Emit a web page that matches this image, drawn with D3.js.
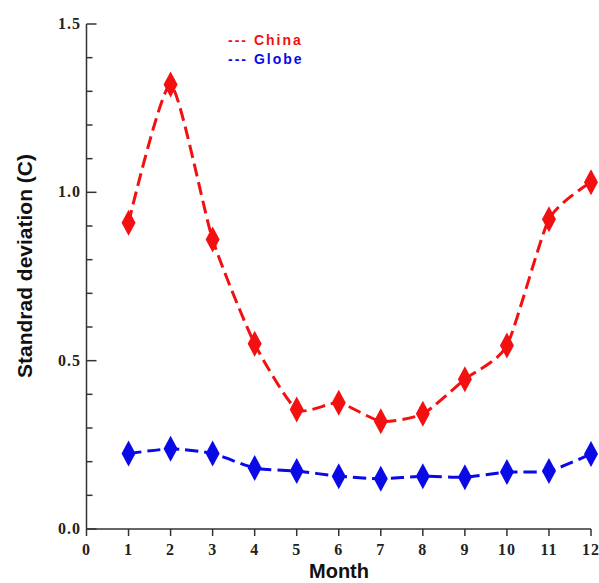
<!DOCTYPE html>
<html lang="en">
<head>
  <meta charset="UTF-8">
  <title>Standard deviation by month</title>
  <script src="https://cdnjs.cloudflare.com/ajax/libs/d3/7.8.5/d3.min.js"></script>
  <style>
    body { margin: 0; background: #fff; }
    svg { display: block; }
    .tick-label { font-family: "Liberation Serif", "Times New Roman", serif; font-weight: bold; font-size: 16px; fill: #222; letter-spacing: 1px; }
    .title { font-family: "Liberation Sans", Arial, sans-serif; font-weight: bold; font-size: 21px; fill: #111; }
    .legend { font-family: "Liberation Sans", Arial, sans-serif; font-weight: bold; font-size: 14px; letter-spacing: 2px; }
  </style>
</head>
<body>
  <svg id="chart" width="599" height="583"></svg>
  <script>
    // data
    const months = [1, 2, 3, 4, 5, 6, 7, 8, 9, 10, 11, 12];
    const china = [0.91, 1.32, 0.86, 0.55, 0.355, 0.375, 0.32, 0.342, 0.445, 0.545, 0.92, 1.03];
    const globe = [0.224, 0.238, 0.224, 0.181, 0.172, 0.157, 0.149, 0.157, 0.154, 0.169, 0.172, 0.223];
    const xTicks = [0, 1, 2, 3, 4, 5, 6, 7, 8, 9, 10, 11, 12];
    const yMajor = [0.0, 0.5, 1.0, 1.5];
    const yMinor = [0.1, 0.2, 0.3, 0.4, 0.6, 0.7, 0.8, 0.9, 1.1, 1.2, 1.3, 1.4];

    const svg = d3.select("#chart");
    const x = d3.scaleLinear().domain([0, 12]).range([86.5, 591]);
    const y = d3.scaleLinear().domain([0, 1.5]).range([529, 24]);
    const axisColor = "#333";

    // y axis line + inward ticks
    svg.append("line")
      .attr("x1", x(0)).attr("x2", x(0))
      .attr("y1", y(1.5)).attr("y2", y(0))
      .attr("stroke", axisColor).attr("stroke-width", 1.5);
    svg.selectAll(".ymaj").data(yMajor).enter().append("line")
      .attr("x1", x(0)).attr("x2", x(0) + 10)
      .attr("y1", d => y(d)).attr("y2", d => y(d))
      .attr("stroke", axisColor).attr("stroke-width", 1.5);
    svg.selectAll(".ymin").data(yMinor).enter().append("line")
      .attr("x1", x(0)).attr("x2", x(0) + 6)
      .attr("y1", d => y(d)).attr("y2", d => y(d))
      .attr("stroke", axisColor).attr("stroke-width", 1.5);
    svg.selectAll(".ylab").data(yMajor).enter().append("text")
      .attr("class", "tick-label")
      .attr("x", 81).attr("y", d => y(d) + 5)
      .attr("text-anchor", "end")
      .text(d => d.toFixed(1));

    // x axis line + outward ticks
    svg.append("line")
      .attr("x1", x(0)).attr("x2", x(12))
      .attr("y1", y(0)).attr("y2", y(0))
      .attr("stroke", axisColor).attr("stroke-width", 1.5);
    svg.selectAll(".xt").data(xTicks).enter().append("line")
      .attr("x1", d => x(d)).attr("x2", d => x(d))
      .attr("y1", y(0)).attr("y2", y(0) + 7)
      .attr("stroke", axisColor).attr("stroke-width", 1.5);
    svg.selectAll(".xlab").data(xTicks).enter().append("text")
      .attr("class", "tick-label")
      .attr("x", d => x(d)).attr("y", 555)
      .attr("text-anchor", "middle")
      .text(d => d);

    // axis titles
    svg.append("text").attr("class", "title")
      .attr("x", 339).attr("y", 578)
      .attr("text-anchor", "middle")
      .style("font-size", "20px")
      .text("Month");
    svg.append("text").attr("class", "title")
      .attr("transform", "translate(32,266) rotate(-90)")
      .attr("text-anchor", "middle")
      .text("Standrad deviation (C)");

    // series
    const line = d3.line()
      .x((d, i) => x(months[i]))
      .y(d => y(d))
      .curve(d3.curveCardinal.tension(0.4));

    const diamond = (cx, cy) => `M${cx},${cy - 13}L${cx + 7},${cy}L${cx},${cy + 13}L${cx - 7},${cy}Z`;

    function drawSeries(values, color) {
      svg.append("path")
        .datum(values)
        .attr("fill", "none")
        .attr("stroke", color)
        .attr("stroke-width", 3)
        .attr("stroke-dasharray", "13,6")
        .attr("d", line);
      svg.selectAll(null).data(values).enter().append("path")
        .attr("d", (d, i) => diamond(x(months[i]), y(d)))
        .attr("fill", color);
    }
    drawSeries(china, "#f21010");
    drawSeries(globe, "#0a0ae6");

    // legend
    svg.append("text").attr("class", "legend")
      .attr("x", 228).attr("y", 45)
      .attr("fill", "#f21010")
      .text("--- China");
    svg.append("text").attr("class", "legend")
      .attr("x", 228).attr("y", 64)
      .attr("fill", "#0a0ae6")
      .text("--- Globe");
  </script>
</body>
</html>
